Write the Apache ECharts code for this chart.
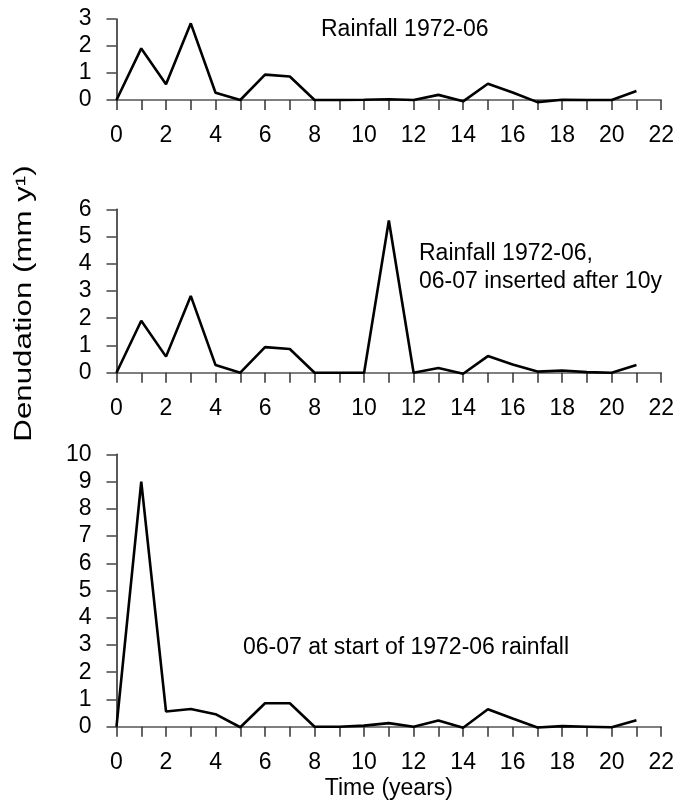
<!DOCTYPE html>
<html>
<head>
<meta charset="utf-8">
<script src="https://cdn.jsdelivr.net/npm/echarts@6/dist/echarts.min.js"></script>
<style>html,body{margin:0;padding:0;background:#fff}#c{width:677px;height:803px}</style>
</head>
<body>
<div id="c"></div>
<script>
const years = [0,1,2,3,4,5,6,7,8,9,10,11,12,13,14,15,16,17,18,19,20,21];
const rainfall7206 = [0,1.91,0.58,2.84,0.27,0,0.94,0.87,0,0,0.01,0.03,0,0.19,-0.05,0.6,0.28,-0.08,0.01,0,0,0.33];
const inserted10y = [0,1.91,0.59,2.82,0.28,0,0.94,0.87,0,0,0,5.59,0,0.17,-0.04,0.61,0.3,0.04,0.08,0.02,0,0.28];
const atStart = [0,9.0,0.56,0.65,0.46,-0.02,0.86,0.86,0,0,0.04,0.13,0,0.23,-0.04,0.64,0.3,-0.03,0.02,0,-0.02,0.24];
const yMax = [3, 6, 10];
const xMax = 22;
const labels = ['Rainfall 1972-06', 'Rainfall 1972-06,\n06-07 inserted after 10y', '06-07 at start of 1972-06 rainfall'];
const yTitle = 'Denudation (mm y\u00B9)';
const xTitle = 'Time (years)';

const FONT = 'Liberation Sans, Arial, sans-serif';
const FS = 23;
const grids = [
  {left:116.5, right:15, top:19, height:81},
  {left:116.5, right:15, top:209.3, height:163.4},
  {left:116.5, right:15, top:454.3, height:272.4}
];
const seriesData = [rainfall7206, inserted10y, atStart];

const xAxes = grids.map((g,i)=>({
  type:'value', gridIndex:i, min:0, max:xMax, interval:1,
  axisLine:{show:true, onZero:false, lineStyle:{color:'#555', width:1.5}},
  axisTick:{show:true, length:10, lineStyle:{color:'#333', width:1.5}},
  axisLabel:{show:true, margin:24, fontFamily:FONT, fontSize:FS, color:'#000',
    formatter:v=> (v%2===0? String(v) : '')},
  splitLine:{show:false},
  name: i===2 ? xTitle : '', nameLocation:'middle', nameGap:50,
  nameTextStyle:{fontFamily:FONT, fontSize:FS, color:'#000'}
}));
const yAxes = grids.map((g,i)=>({
  type:'value', gridIndex:i, min:0, max:yMax[i], interval:1,
  axisLine:{show:true, lineStyle:{color:'#222', width:1.5}},
  axisTick:{show:true, length:10, lineStyle:{color:'#444', width:1.5}},
  axisLabel:{margin:25, fontFamily:FONT, fontSize:FS, color:'#000'},
  splitLine:{show:false}
}));
const series = seriesData.map((d,i)=>({
  type:'line', xAxisIndex:i, yAxisIndex:i, clip:false,
  data: years.map((x,j)=>[x, d[j]]),
  showSymbol:false, symbol:'none',
  lineStyle:{color:'#000', width:2.6}, animation:false
}));
const labelPos = [[321,30],[419,268],[243,648]];
const graphic = labels.map((t,i)=>({
  type:'text', x:labelPos[i][0], y:labelPos[i][1],
  style:{text:t, font: FS+'px '+FONT, fill:'#000', textAlign:'left', textVerticalAlign:'middle', lineHeight:28}
}));
graphic.push({
  type:'text', x:25, y:303.5, rotation:Math.PI/2, scaleX:1.36, scaleY:1,
  style:{text:yTitle, font: '23px '+FONT, fill:'#000', textAlign:'center', textVerticalAlign:'middle'}
});
const chart = echarts.init(document.getElementById('c'), null, {renderer:'canvas'});
chart.setOption({animation:false, grid:grids, xAxis:xAxes, yAxis:yAxes, series, graphic});
</script>
</body>
</html>
